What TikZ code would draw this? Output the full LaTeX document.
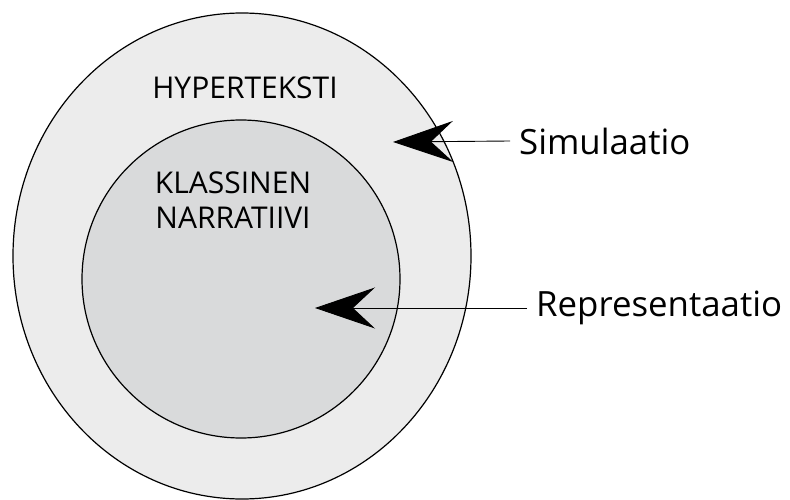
\documentclass[tikz,border=0pt]{standalone}
\usepackage{fontspec}
\setmainfont{Open Sans}
\usetikzlibrary{arrows.meta}
\definecolor{outerfill}{RGB}{236,236,236}
\definecolor{innerfill}{RGB}{217,218,219}
\tikzset{
  ring/.style={draw=black, line width=1.2pt},
  pointer/.style={draw=black, line width=0.9pt,
    -{Stealth[length=60pt, width=41pt, inset=22pt]}},
  label/.style={inner xsep=9pt, inner ysep=0pt, anchor=west,
    font=\fontsize{34.8}{40}\selectfont},
  setname/.style={inner sep=0pt, anchor=base, align=center,
    font=\fontsize{30}{34.5}\selectfont}
}
\begin{document}
\begin{tikzpicture}[x=1pt, y=1pt]
  \useasboundingbox (0,0) rectangle (790,499);
  % nested sets
  \path[ring, fill=outerfill] (242,243) ellipse [x radius=229, y radius=243];
  \path[ring, fill=innerfill] (241,220) circle [radius=159];
  \node[setname] (hyper) at (245,400) {HYPERTEKSTI};
  \node[setname] (klass) at (233,271) {KLASSINEN\\NARRATIIVI};
  % labelled pointers
  \node[label] (sim) at (510,358) {Simulaatio};
  \node[label] (rep) at (527,191) {Representaatio};
  \coordinate (simtip) at (393,357);
  \coordinate (reptip) at (315,191);
  \draw[pointer] (sim.west) -- (simtip);
  \draw[pointer] (rep.west) -- (reptip);
\end{tikzpicture}
\end{document}
